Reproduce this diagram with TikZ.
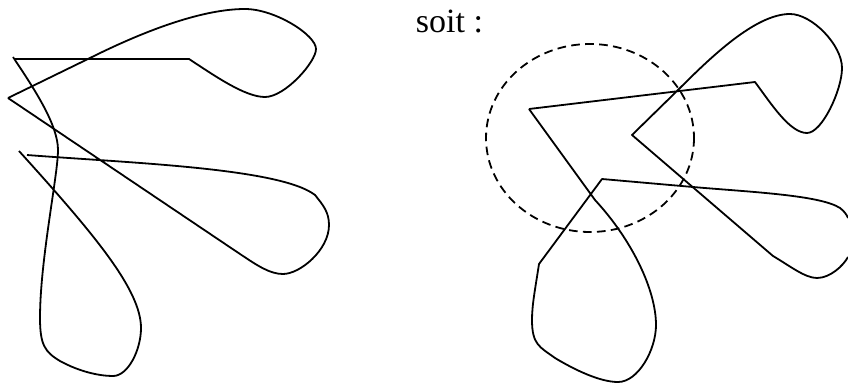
\documentclass[tikz,border=0pt]{standalone}
\usepackage{fontspec}
\setmainfont{Liberation Serif}
\begin{document}
\begin{tikzpicture}[x=0.75pt, y=-0.75pt, line width=1.35pt, line join=round]
  \useasboundingbox (0,0) rectangle (848,385);
  % figure de gauche
  \draw (8,98) -- (90,58) .. controls (150,28) and (205,9) .. (245,9) .. controls (275,9) and (316,35) .. (316,49)
    .. controls (316,62) and (285,97) .. (265,97) .. controls (245,97) and (215,76) .. (189,59) -- (14,59);
  \draw (13,57) .. controls (35,90) and (58,125) .. (58,150) .. controls (58,175) and (40,260) .. (40,318)
    .. controls (40,345) and (45,352) .. (60,361) .. controls (80,372) and (100,376) .. (113,376)
    .. controls (128,376) and (141,350) .. (141,328) .. controls (141,290) and (95,235) .. (19,151);
  \draw (27,155) .. controls (130,163) and (280,168) .. (315,195) .. controls (323,205) and (329,212) .. (329,225)
    .. controls (329,250) and (300,274) .. (283,274) .. controls (270,274) and (258,266) .. (240,254) -- (8,98);
  % figure de droite
  \draw (529,109) -- (755,82) .. controls (772,105) and (790,133) .. (807,133) .. controls (822,133) and (842,90) .. (842,68)
    .. controls (842,45) and (812,14) .. (790,14) .. controls (755,14) and (710,58) .. (678,90) -- (632,135) -- (773,256)
    .. controls (790,266) and (805,278) .. (817,278) .. controls (830,278) and (843,266) .. (848,257);
  \draw (848,218) .. controls (847,215) and (844,211) .. (840,208) .. controls (820,195) and (750,192) .. (693,187)
    -- (602,179) -- (539,264) .. controls (535,290) and (532,305) .. (532,320) .. controls (532,345) and (540,347) .. (555,358)
    .. controls (575,370) and (600,382) .. (618,382) .. controls (638,382) and (656,350) .. (656,325)
    .. controls (656,290) and (632,240) .. (595,200) -- (529,109);
  % cercle pointille
  \draw[dash pattern=on 6.5pt off 4pt] (590,138) ellipse [x radius=104, y radius=94];
  \node[inner sep=0pt, anchor=base west, font=\fontsize{25.5pt}{30pt}\selectfont] (soit) at (415,33) {soit :};
\end{tikzpicture}
\end{document}
